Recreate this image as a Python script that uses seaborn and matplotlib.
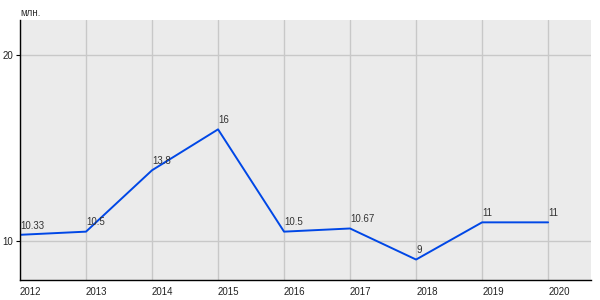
import matplotlib
matplotlib.use("Agg")
import matplotlib.pyplot as plt
import seaborn as sns
import pandas as pd

years = [2012, 2013, 2014, 2015, 2016, 2017, 2018, 2019, 2020]
values = [10.33, 10.5, 13.8, 16, 10.5, 10.67, 9, 11, 11]
labels = ["10.33", "10.5", "13.8", "16", "10.5", "10.67", "9", "11", "11"]
yticks = [10, 20]
unit = "млн."

sns.set_theme(style="white")
plt.rcParams['font.family'] = ['Liberation Sans', 'DejaVu Sans']

df = pd.DataFrame({"year": years, "value": values})

fig = plt.figure(figsize=(6, 3), dpi=100)
ax = fig.add_axes([20/600, 20/300, 571/600, 260/300])
ax.set_facecolor("#ebebeb")

sns.lineplot(data=df, x="year", y="value", ax=ax, color="#0047e6", linewidth=1.4)

ax.set_xlim(2012, 2020.65)
ax.set_ylim(7.9, 21.88)
ax.set_xticks(years)
ax.set_xticklabels([str(y) for y in years], ha="left", fontsize=7, color="#222222")
ax.set_yticks(yticks)
ax.set_yticklabels([str(t) for t in yticks], fontsize=7, color="#222222")
ax.tick_params(axis="x", length=0, pad=5)
ax.tick_params(axis="y", length=3, width=0.8, color="black", pad=2, direction="out", left=True)
ax.grid(True, color="#c8c8c8", linewidth=1)
ax.set_axisbelow(True)
for s in ["top", "right"]:
    ax.spines[s].set_visible(False)
for s in ["left", "bottom"]:
    ax.spines[s].set_color("black")
    ax.spines[s].set_linewidth(1)
ax.set_xlabel("")
ax.set_ylabel("")

for x, y, t in zip(years, values, labels):
    ax.annotate(t, (x, y), xytext=(0, 3), textcoords="offset points",
                ha="left", va="bottom", fontsize=7, color="#333333")

fig.text(20/600, 1 - 13/300, unit, ha="left", va="center", fontsize=7, color="#333333")

fig.savefig("out.png", dpi=100)
